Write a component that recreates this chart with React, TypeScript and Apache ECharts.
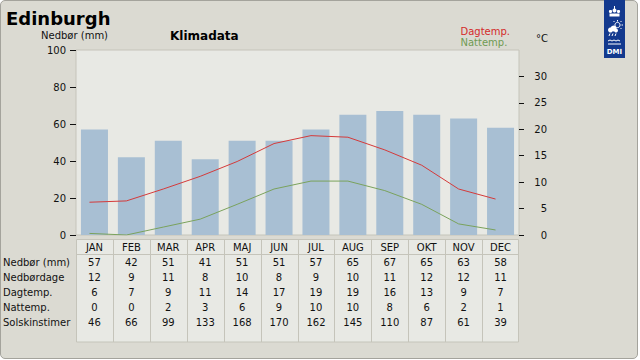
import React, { useEffect, useRef } from "react";
import * as echarts from "echarts";

const months = ["JAN", "FEB", "MAR", "APR", "MAJ", "JUN", "JUL", "AUG", "SEP", "OKT", "NOV", "DEC"];
const precipitation = [57, 42, 51, 41, 51, 51, 57, 65, 67, 65, 63, 58];
const rainDays = [12, 9, 11, 8, 10, 8, 9, 10, 11, 12, 12, 11];
const dayTempTable = [6, 7, 9, 11, 14, 17, 19, 19, 16, 13, 9, 7];
const nightTempTable = [0, 0, 2, 3, 6, 9, 10, 10, 8, 6, 2, 1];
const sunHours = [46, 66, 99, 133, 168, 170, 162, 145, 110, 87, 61, 39];
const dayTempLine = [6.2, 6.45, 8.7, 11.1, 13.9, 17.3, 18.8, 18.5, 16.1, 13.2, 8.7, 6.8];
const nightTempLine = [0.3, 0.0, 1.5, 3.0, 5.8, 8.7, 10.2, 10.2, 8.4, 5.8, 2.1, 0.95];
const rowLabels = ["Nedbør (mm)", "Nedbørdage", "Dagtemp.", "Nattemp.", "Solskinstimer"];
const rows = [precipitation, rainDays, dayTempTable, nightTempTable, sunHours];
const leftTicks = [0, 20, 40, 60, 80, 100];
const rightTicks = [0, 5, 10, 15, 20, 25, 30];

const FONT = "'DejaVu Sans', sans-serif";
const BG = "#dbdad2";
const PLOT_BG = "#e8e9e4";
const LINE_GRAY = "#c5c4ba";

export default function App() {
  const ref = useRef<HTMLDivElement>(null);
  useEffect(() => {
    if (!ref.current) return;
    const chart = echarts.init(ref.current, null, { renderer: "svg" });
    const gl = 76, gr = 519, gt = 50, gb = 235;
    const colW = (gr - gl) / 12;
    const tTop = 239.5, tHead = 254.5, tBot = 342;

    const g: any[] = [];
    // table background & frame
    g.push({ type: "rect", shape: { x: gl + 0.5, y: tTop, width: gr - gl - 1, height: tBot - tTop }, style: { fill: PLOT_BG, stroke: LINE_GRAY, lineWidth: 1 } });
    g.push({ type: "line", shape: { x1: gl, y1: tHead, x2: gr, y2: tHead }, style: { stroke: LINE_GRAY, lineWidth: 1 } });
    for (let i = 1; i < 12; i++) {
      const x = Math.round(gl + i * colW) + 0.5;
      g.push({ type: "line", shape: { x1: x, y1: tTop, x2: x, y2: tBot }, style: { stroke: LINE_GRAY, lineWidth: 1 } });
    }
    months.forEach((m, i) => {
      g.push({ type: "text", style: { text: m, x: gl + (i + 0.5) * colW, y: 247, fill: "#111", font: `10px ${FONT}`, textAlign: "center", textVerticalAlign: "middle" } });
    });
    rows.forEach((r, ri) => {
      const y = 262 + ri * 15;
      g.push({ type: "text", style: { text: rowLabels[ri], x: 3, y, fill: "#111", font: `10px ${FONT}`, textAlign: "left", textVerticalAlign: "middle" } });
      r.forEach((v, i) => {
        g.push({ type: "text", style: { text: String(v), x: gl + (i + 0.5) * colW, y, fill: "#111", font: `10px ${FONT}`, textAlign: "center", textVerticalAlign: "middle" } });
      });
    });
    // titles
    g.push({ type: "text", style: { text: "Edinburgh", x: 6, y: 18.5, fill: "#000", font: `bold 18px ${FONT}`, textAlign: "left", textVerticalAlign: "middle" } });
    g.push({ type: "text", style: { text: "Nedbør (mm)", x: 41, y: 35.5, fill: "#111", font: `10px ${FONT}`, textAlign: "left", textVerticalAlign: "middle" } });
    g.push({ type: "text", style: { text: "Klimadata", x: 170, y: 35.5, fill: "#000", font: `bold 12px ${FONT}`, textAlign: "left", textVerticalAlign: "middle" } });
    g.push({ type: "text", style: { text: "Dagtemp.", x: 460.5, y: 31.5, fill: "#d42a2a", font: `10px ${FONT}`, textAlign: "left", textVerticalAlign: "middle" } });
    g.push({ type: "text", style: { text: "Nattemp.", x: 460.5, y: 42.3, fill: "#6f9a52", font: `10px ${FONT}`, textAlign: "left", textVerticalAlign: "middle" } });
    g.push({ type: "text", style: { text: "°C", x: 536, y: 38.5, fill: "#111", font: `10px ${FONT}`, textAlign: "left", textVerticalAlign: "middle" } });
    // DMI logo
    const W = "#ffffff";
    g.push({ type: "rect", shape: { x: 604, y: 0, width: 21, height: 58 }, style: { fill: "#13398e" } });
    g.push({ type: "rect", shape: { x: 609.5, y: 13.5, width: 10, height: 3 }, style: { fill: W } });
    g.push({ type: "circle", shape: { cx: 610.5, cy: 11.5, r: 1.6 }, style: { fill: W } });
    g.push({ type: "circle", shape: { cx: 614.5, cy: 10.5, r: 2 }, style: { fill: W } });
    g.push({ type: "circle", shape: { cx: 618.5, cy: 11.5, r: 1.6 }, style: { fill: W } });
    g.push({ type: "rect", shape: { x: 614, y: 6, width: 1, height: 3 }, style: { fill: W } });
    g.push({ type: "circle", shape: { cx: 617.5, cy: 25, r: 2.6 }, style: { fill: "none", stroke: W, lineWidth: 1 } });
    [[617.5, 20, 617.5, 21.5], [621.5, 25, 623, 25], [620.5, 22, 621.5, 21], [620.5, 28, 621.5, 29], [614.5, 22, 613.5, 21]].forEach((l) => {
      g.push({ type: "line", shape: { x1: l[0], y1: l[1], x2: l[2], y2: l[3] }, style: { stroke: W, lineWidth: 1 } });
    });
    g.push({ type: "circle", shape: { cx: 610.5, cy: 30, r: 2.5 }, style: { fill: W } });
    g.push({ type: "circle", shape: { cx: 613.5, cy: 28.5, r: 3 }, style: { fill: W } });
    g.push({ type: "circle", shape: { cx: 616, cy: 30.5, r: 2 }, style: { fill: W } });
    [[610, 33.5, 609, 36], [613, 33.5, 612, 36], [616, 33.5, 615, 36]].forEach((l) => {
      g.push({ type: "line", shape: { x1: l[0], y1: l[1], x2: l[2], y2: l[3] }, style: { stroke: W, lineWidth: 1 } });
    });
    g.push({ type: "polyline", shape: { points: [[608, 41], [610, 40], [612, 41], [614, 40], [616, 41], [618, 40], [620, 41]] }, style: { stroke: W, lineWidth: 1, fill: "none" } });
    g.push({ type: "line", shape: { x1: 608, y1: 44, x2: 621, y2: 44 }, style: { stroke: W, lineWidth: 1 } });
    g.push({ type: "text", style: { text: "DMI", x: 614.5, y: 52, fill: W, font: `bold 7px ${FONT}`, textAlign: "center", textVerticalAlign: "middle" } });

    chart.setOption({
      animation: false,
      backgroundColor: "transparent",
      textStyle: { fontFamily: FONT },
      grid: [
        { left: gl, right: 640 - gr, top: gt, bottom: 360 - gb, show: true, backgroundColor: PLOT_BG, borderColor: LINE_GRAY, borderWidth: 1 },
        { left: gl - 5, right: 640 - gr + 5, top: gt, bottom: 360 - gb, show: false },
      ],
      xAxis: [
        { type: "category", gridIndex: 0, data: months, axisLine: { show: false }, axisTick: { show: false }, axisLabel: { show: false } },
        { type: "category", gridIndex: 1, data: months, show: false },
      ],
      yAxis: [
        {
          type: "value", gridIndex: 0, position: "left", min: 0, max: 100, interval: 20,
          axisLine: { show: false }, splitLine: { show: false },
          axisTick: { show: true, length: 6, lineStyle: { color: "#111" }, customValues: leftTicks },
          axisLabel: { color: "#111", fontSize: 10, margin: 10, customValues: leftTicks },
        },
        {
          type: "value", gridIndex: 0, position: "right", min: 0, max: 35, interval: 5,
          axisLine: { show: false }, splitLine: { show: false },
          axisTick: { show: true, length: 5, lineStyle: { color: "#111" }, customValues: rightTicks },
          axisLabel: { color: "#111", fontSize: 10, margin: 28, align: "right", customValues: rightTicks },
        },
        { type: "value", gridIndex: 1, min: 0, max: 35, show: false },
      ],
      series: [
        { type: "bar", xAxisIndex: 0, yAxisIndex: 0, data: precipitation, barWidth: 27, itemStyle: { color: "#a8bfd3" }, silent: true },
        { type: "line", xAxisIndex: 1, yAxisIndex: 2, data: dayTempLine, symbol: "none", lineStyle: { color: "#d43a3a", width: 1 }, silent: true },
        { type: "line", xAxisIndex: 1, yAxisIndex: 2, data: nightTempLine, symbol: "none", lineStyle: { color: "#7aa25c", width: 1 }, silent: true },
      ],
      graphic: { elements: g },
    });
    return () => chart.dispose();
  }, []);

  return (
    <div style={{ position: "fixed", left: 0, top: 0, width: 640, height: 360, background: "#fff" }}>
      <div style={{ position: "absolute", left: 0, top: 0, width: 638, height: 359, boxSizing: "border-box", background: BG, border: "1px solid #a4a39c", borderRadius: 5 }} />
      <div ref={ref} style={{ position: "absolute", left: 0, top: 0, width: 640, height: 360 }} />
    </div>
  );
}
